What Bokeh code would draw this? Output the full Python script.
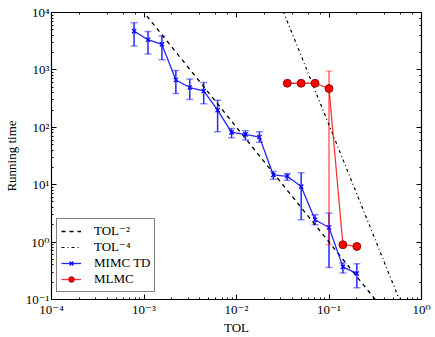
import numpy as np
from bokeh.plotting import figure
from bokeh.models import (LogAxis, CustomJSTickFormatter, Whisker, TeeHead,
                          ColumnDataSource, Legend, LegendItem, Range1d)
from bokeh.embed import file_html
from bokeh.resources import INLINE

# ---- data ----
mimc_tol = [0.000781, 0.001105, 0.001563, 0.00221, 0.003125, 0.00442, 0.00625, 0.00884,
            0.0125, 0.0177, 0.025, 0.0354, 0.05, 0.0707, 0.1, 0.1414, 0.2]
mimc_time = [4730, 3360, 2780, 668, 493, 430, 199, 81.5, 75.3, 67.6, 14.8, 14.0, 9.27,
             2.45, 1.80, 0.37, 0.283]
mimc_lo = [2600, 1890, 1510, 388, 305, 256, 83.6, 65.7, 60.0, 54.7, 12.5, 12.0, 2.45,
           2.0, 0.36, 0.29, 0.16]
mimc_hi = [6600, 4680, 3880, 973, 695, 601, 297, 95.7, 87.0, 83.6, 16.9, 15.7, 16.2,
           2.99, 3.2, 0.434, 0.42]

mlmc_tol = [0.0354, 0.05, 0.0707, 0.1, 0.1414, 0.2]
mlmc_time = [585, 585, 585, 473, 0.90, 0.84]
mlmc_lo = [570, 570, 570, 0.9, 0.88, 0.82]
mlmc_hi = [600, 600, 600, 957, 0.92, 0.86]

ref_tol = [1e-4, 1.0]
coef_tol2 = 0.01
coef_tol4 = 0.011

FONT = "Liberation Serif, DejaVu Serif"

p = figure(width=435, height=337, x_axis_type="log", y_axis_type="log",
           x_range=Range1d(1e-4, 1.0), y_range=Range1d(0.1, 1e4),
           output_backend="svg", toolbar_location=None,
           min_border_left=49, min_border_right=14, min_border_top=12, min_border_bottom=37)
p.xgrid.visible = False
p.ygrid.visible = False
p.outline_line_color = "black"
p.outline_line_width = 1
p.background_fill_color = "white"
p.border_fill_color = "white"

sup_code = """
const sup = {"-":"\u207b","0":"\u2070","1":"\u00b9","2":"\u00b2","3":"\u00b3","4":"\u2074",
             "5":"\u2075","6":"\u2076","7":"\u2077","8":"\u2078","9":"\u2079"};
const e = Math.round(Math.log10(tick));
return "10" + String(e).split("").map(c => sup[c]).join("");
"""
fmt = CustomJSTickFormatter(code=sup_code)

for ax in (p.xaxis[0], p.yaxis[0]):
    ax.formatter = fmt
    ax.major_tick_in = 5
    ax.major_tick_out = 0
    ax.minor_tick_in = 2
    ax.minor_tick_out = 0
    ax.major_label_text_font = FONT
    ax.major_label_text_font_size = "13px"
    ax.major_label_text_color = "black"
    ax.axis_line_color = "black"
    ax.axis_line_width = 1.2
    ax.major_tick_line_color = "black"
    ax.minor_tick_line_color = "black"
    ax.axis_label_text_font = FONT
    ax.axis_label_text_font_size = "13px"
    ax.axis_label_text_font_style = "normal"
    ax.axis_label_text_color = "black"
    ax.major_label_standoff = 2

p.xaxis[0].axis_label = "TOL"
p.xaxis[0].axis_label_standoff = 0
p.yaxis[0].axis_label = "Running time"
p.yaxis[0].axis_label_standoff = 4

empty = CustomJSTickFormatter(code="return '';")
for side in ("above", "right"):
    ax = LogAxis(formatter=empty, major_tick_in=5, major_tick_out=0, minor_tick_in=2,
                 minor_tick_out=0, major_label_text_font_size="0px", major_label_standoff=0,
                 axis_line_color="black", axis_line_width=1.2)
    p.add_layout(ax, side)

# reference slopes
l2 = p.line(ref_tol, [coef_tol2 * t ** -2 for t in ref_tol], line_color="black",
            line_width=1.3, line_dash="4 4")
l4 = p.line(ref_tol, [coef_tol4 * t ** -4 for t in ref_tol], line_color="black",
            line_width=1.2, line_dash="3 3 1 3")

# MIMC TD
src_b = ColumnDataSource(dict(x=mimc_tol, y=mimc_time, lo=mimc_lo, hi=mimc_hi))
wb = Whisker(source=src_b, base="x", upper="hi", lower="lo", dimension="height",
             line_color="blue", line_width=1.5, line_alpha=0.85,
             upper_head=TeeHead(size=7, line_color="blue", line_alpha=0.45, line_width=1.5),
             lower_head=TeeHead(size=7, line_color="blue", line_alpha=0.45, line_width=1.5))
p.add_layout(wb)
bl = p.line("x", "y", source=src_b, line_color="blue", line_width=1.3, line_alpha=0.85)
bs = p.scatter("x", "y", source=src_b, marker="x", size=6, line_color="blue", line_width=1.2)

# MLMC
src_r = ColumnDataSource(dict(x=mlmc_tol, y=mlmc_time, lo=mlmc_lo, hi=mlmc_hi))
wr = Whisker(source=src_r, base="x", upper="hi", lower="lo", dimension="height",
             line_color="red", line_width=1.5, line_alpha=0.6,
             upper_head=TeeHead(size=7, line_color="red", line_alpha=0.35, line_width=1.5),
             lower_head=TeeHead(size=7, line_color="red", line_alpha=0.35, line_width=1.5))
p.add_layout(wr)
rl = p.line("x", "y", source=src_r, line_color="red", line_width=1.3, line_alpha=0.8)
rs = p.scatter("x", "y", source=src_r, marker="circle", size=8, fill_color="red",
               line_color="#700000", line_width=0.8)

legend = Legend(items=[
    LegendItem(label="TOL\u207b\u00b2", renderers=[l2]),
    LegendItem(label="TOL\u207b\u2074", renderers=[l4]),
    LegendItem(label="MIMC TD", renderers=[bl, bs]),
    LegendItem(label="MLMC", renderers=[rl, rs]),
], location=(5, 7))
legend.label_text_font = FONT
legend.label_text_font_size = "13px"
legend.label_text_color = "black"
legend.glyph_width = 20
legend.glyph_height = 14
legend.label_height = 14
legend.label_standoff = 13
legend.spacing = -2
legend.padding = 4
legend.margin = 0
legend.border_line_color = "black"
legend.border_line_width = 1.2
legend.background_fill_alpha = 1.0
p.add_layout(legend, "center")

open("out.html", "w", encoding="utf-8").write(file_html(p, INLINE))
